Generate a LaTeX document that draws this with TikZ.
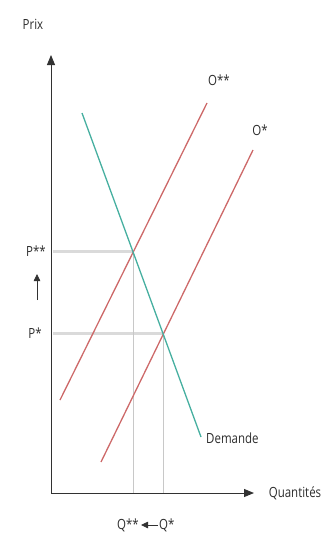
\documentclass[tikz,border=0pt]{standalone}
\usepackage{fontspec}
\setmainfont{Open Sans}[FakeStretch=0.82]
\usetikzlibrary{arrows.meta}
\definecolor{axisc}{RGB}{50,50,50}
\definecolor{demc}{RGB}{70,175,160}
\definecolor{offc}{RGB}{205,105,105}
\definecolor{guideh}{RGB}{218,218,218}
\definecolor{guidev}{RGB}{200,200,200}
\definecolor{txtc}{RGB}{45,45,45}
\tikzset{
  axis/.style={draw=axisc, line width=1pt, -{Triangle[length=10pt,width=8pt]}},
  demande/.style={draw=demc, line width=1.3pt},
  offre/.style={draw=offc, line width=1.3pt},
  hguide/.style={draw=guideh, line width=3pt},
  vguide/.style={draw=guidev, line width=0.6pt},
  lbl/.style={text=txtc, font=\fontsize{14}{15}\selectfont, inner sep=0pt},
  small arrow/.style={draw=axisc, line width=0.8pt, -{Triangle[length=7pt,width=6.5pt]}}
}
\begin{document}
\begin{tikzpicture}[x=1pt,y=-1pt]
\useasboundingbox (0,0) rectangle (327,543);
% coordinates
\coordinate (O) at (51,493);
\coordinate (Ytip) at (51,55);
\coordinate (Xtip) at (254,493);
\coordinate (D1) at (82,113);
\coordinate (D2) at (201,437);
\coordinate (S2a) at (60,400);
\coordinate (S2b) at (207,103);
\coordinate (S1a) at (101,462);
\coordinate (S1b) at (253,150);
\coordinate (E2) at (133,251);
\coordinate (E1) at (163,333);
\coordinate (Y2) at (53,251);
\coordinate (Y1) at (53,333);
\coordinate (X2) at (133,493);
\coordinate (X1) at (163,493);
% guides
\draw[hguide] (Y2) -- (E2);
\draw[hguide] (Y1) -- (E1);
\draw[vguide] (E2) -- (X2);
\draw[vguide] (E1) -- (X1);
% curves
\draw[offre] (S2a) -- (S2b);
\draw[offre] (S1a) -- (S1b);
\draw[demande] (D1) -- (D2);
% axes
\draw[axis] (O) -- (Ytip);
\draw[axis] (O) -- (Xtip);
% labels
\node[lbl] (prix) at (33,24) {Prix};
\node[lbl] (quant) at (295,493) {Quantités};
\node[lbl, anchor=west] (dem) at (206,438) {Demande};
\node[lbl] (oss) at (219,80) {O**};
\node[lbl] (os) at (260,130) {O*};
\node[lbl] (pss) at (36,251) {P**};
\node[lbl] (ps) at (35,333) {P*};
\node[lbl, anchor=east] (qss) at (139,525) {Q**};
\node[lbl, anchor=west] (qs) at (159,525) {Q*};
\coordinate (pa1) at (37,300);
\coordinate (pa2) at (37,274);
\draw[small arrow] (pa1) -- (pa2);
\draw[small arrow] (qs.west) ++(-1,0) coordinate (qa1) -- ([xshift=2pt]qss.east);
\end{tikzpicture}
\end{document}
